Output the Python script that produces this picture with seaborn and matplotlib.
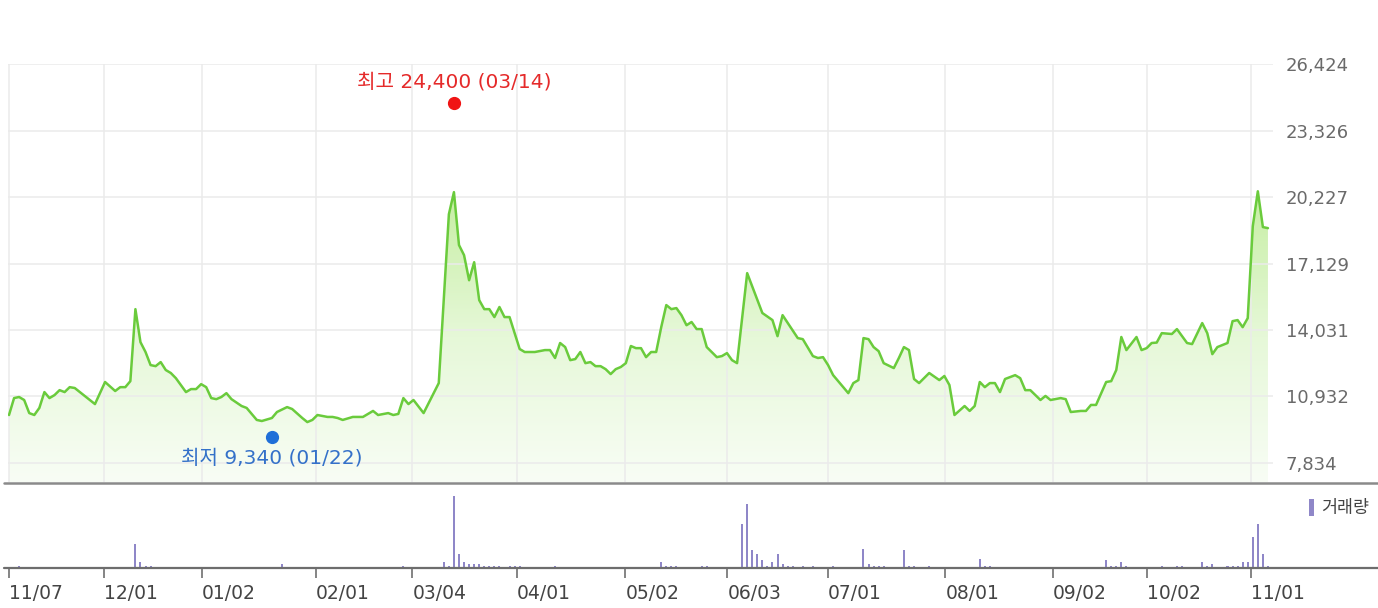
import numpy as np
import matplotlib
matplotlib.use("Agg")
import matplotlib.pyplot as plt
import seaborn as sns
from matplotlib.lines import Line2D
from matplotlib.patches import Patch
from matplotlib.transforms import offset_copy
from matplotlib.colors import LinearSegmentedColormap

# ---------------- data ----------------
day = [0, 1, 2, 3, 4, 5, 6, 7, 8, 9, 10, 11, 12, 13, 17, 19, 21, 22, 23, 24,
       25, 26, 27, 28, 29, 30, 31, 32, 33, 35, 36, 37, 38, 39, 40, 41, 42, 43, 44, 46,
       47, 49, 50, 52, 53, 55, 56, 58, 59, 60, 61, 63, 64, 65, 66, 68, 70, 72, 73, 75,
       76, 77, 78, 79, 80, 82, 85, 87, 88, 89, 90, 91, 92, 93, 94, 95, 96, 97, 98, 99,
       101, 102, 104, 106, 107, 108, 109, 110, 111, 112, 113, 114, 115, 116, 117, 118, 119, 120, 121, 122,
       123, 124, 125, 126, 127, 128, 129, 130, 131, 132, 133, 134, 135, 136, 137, 138, 140, 141, 142, 143,
       144, 146, 149, 151, 152, 153, 156, 157, 159, 160, 161, 162, 163, 166, 167, 168, 169, 170, 171, 172,
       173, 175, 176, 177, 178, 179, 180, 182, 184, 185, 186, 187, 189, 190, 191, 192, 193, 194, 195, 196,
       197, 199, 200, 201, 202, 204, 205, 206, 208, 209, 210, 212, 213, 214, 215, 217, 218, 219, 220, 221,
       223, 224, 225, 226, 227, 228, 230, 231, 233, 234, 236, 237, 238, 239, 241, 242, 243, 244, 245, 246,
       247, 248, 249]
price = [10060, 10850, 10900, 10760, 10150, 10060, 10390, 11130, 10850, 10990, 11220, 11130, 11360, 11320, 10570, 11600, 11180, 11360, 11360, 11640,
         15000, 13460, 13000, 12390, 12340, 12530, 12160, 12020, 11780, 11130, 11270, 11270, 11500, 11360, 10850, 10800, 10900, 11080, 10800, 10480,
         10390, 9830, 9780, 9920, 10200, 10430, 10340, 9920, 9730, 9830, 10060, 9970, 9970, 9920, 9830, 9970, 9970, 10250, 10060, 10150,
         10060, 10110, 10850, 10570, 10760, 10150, 11550, 19430, 20460, 17990, 17520, 16350, 17190, 15420, 15000, 15000, 14630, 15100, 14630, 14630,
         13140, 13000, 13000, 13090, 13090, 12720, 13420, 13230, 12620, 12670, 13000, 12480, 12530, 12340, 12340, 12200, 11970, 12200, 12300, 12480,
         13280, 13180, 13180, 12760, 13000, 13000, 14160, 15190, 15000, 15050, 14720, 14250, 14400, 14070, 14070, 13230, 12760, 12810, 12950, 12620,
         12480, 16680, 14820, 14490, 13740, 14720, 13650, 13600, 12810, 12720, 12760, 12390, 11920, 11080, 11550, 11690, 13650, 13600, 13230, 13040,
         12480, 12250, 12720, 13230, 13090, 11740, 11550, 12020, 11690, 11880, 11460, 10060, 10480, 10250, 10480, 11600, 11360, 11550, 11550, 11130,
         11740, 11920, 11780, 11220, 11220, 10760, 10950, 10760, 10850, 10800, 10200, 10250, 10250, 10530, 10530, 11600, 11640, 12160, 13700, 13090,
         13700, 13090, 13180, 13420, 13440, 13880, 13840, 14070, 13420, 13370, 14350, 13880, 12900, 13230, 13420, 14440, 14490, 14160, 14580, 18870,
         20500, 18830, 18780]

vol_day = [2, 25, 26, 27, 28, 54, 78, 86, 87, 88, 89, 90, 91, 92, 93, 94, 95, 96, 97, 99,
           100, 101, 108, 129, 130, 131, 132, 137, 138, 145, 146, 147, 148, 149, 150, 151, 152, 153, 154, 155,
           157, 159, 163, 169, 170, 171, 172, 173, 177, 178, 179, 182, 192, 193, 194, 217, 218, 219, 220, 221,
           228, 231, 232, 236, 237, 238, 241, 242, 243, 244, 245, 246, 247, 248, 249]
volume = [23, 243, 67, 27, 23, 43, 27, 67, 23, 723, 143, 67, 50, 50, 50, 23, 23, 23, 23, 27,
          27, 23, 23, 67, 27, 27, 27, 23, 23, 443, 643, 183, 143, 83, 23, 67, 143, 43, 27, 23,
          23, 23, 23, 200, 50, 27, 27, 27, 183, 27, 27, 23, 100, 27, 27, 83, 27, 27, 67, 23,
          23, 23, 23, 67, 27, 43, 27, 27, 27, 67, 67, 320, 443, 143, 23]

tick_days = [0, 18.8, 38.1, 60.7, 79.8, 100.4, 121.9, 142.1, 161.9, 185.2, 206.5, 225.1, 245.7]
tick_labels = ["11/07", "12/01", "01/02", "02/01", "03/04", "04/01", "05/02",
               "06/03", "07/01", "08/01", "09/02", "10/02", "11/01"]
price_ticks = [7834, 10932, 14031, 17129, 20227, 23326, 26424]

high_day, high_val, high_date = 88, 24400, "03/14"
low_day, low_val, low_date = 52, 9340, "01/22"
volume_label = "거래량"

# ---------------- style ----------------
sns.set_theme(style="white")
plt.rcParams["font.family"] = ["DejaVu Sans", "Noto Sans CJK KR"]

W, H = 1378, 608
fig = plt.figure(figsize=(W / 100, H / 100), dpi=100)
ax = fig.add_axes([8 / W, 1 - 482 / H, (1273 - 8) / W, (482 - 64) / H])
axv = fig.add_axes([8 / W, 1 - 568.5 / H, (1273 - 8) / W, (568.5 - 483) / H])

y_lo, y_hi = 6934, 26440
x_lo, x_hi = -0.2, 250

line_color = "#6acb3c"

# gradient area under the price line
poly = ax.fill_between(day, price, y_lo, color="none", linewidth=0)
cmap = LinearSegmentedColormap.from_list("g", ["#f8fdf5", "#e6f8d8", "#c6eea3"])
grad = np.linspace(0, 1, 256).reshape(-1, 1)
im = ax.imshow(grad, extent=[day[0], day[-1], y_lo, max(price)], origin="lower",
               aspect="auto", cmap=cmap, zorder=0.3, interpolation="bicubic")
im.set_clip_path(poly.get_paths()[0], transform=ax.transData)

sns.lineplot(x=day, y=price, ax=ax, color=line_color, linewidth=1.8, zorder=3)

ax.set_xlim(x_lo, x_hi)
ax.set_ylim(y_lo, y_hi)
ax.set_xticks(tick_days)
ax.set_xticklabels([])
ax.yaxis.tick_right()
ax.set_yticks(price_ticks)
ax.set_yticklabels([f"{v:,}" for v in price_ticks])
ax.tick_params(axis="both", length=0)
ax.tick_params(axis="y", pad=9, labelsize=13, labelcolor="#6a6a6a")
ax.grid(True, color="#ebebeb", linewidth=1.1)
ax.set_axisbelow(False)
for gl in ax.get_xgridlines() + ax.get_ygridlines():
    gl.set_zorder(0.5)
for s in ax.spines.values():
    s.set_visible(False)
ax.set_xlabel("")
ax.set_ylabel("")

# high / low markers
hi_tr = offset_copy(ax.transData, fig=fig, y=3.5, units="points")
lo_tr = offset_copy(ax.transData, fig=fig, y=-4.5, units="points")
ax.plot([high_day], [high_val], "o", color="#f01414", ms=8.5, transform=hi_tr, zorder=5, clip_on=False)
ax.plot([low_day], [low_val], "o", color="#1f6fd8", ms=8.5, transform=lo_tr, zorder=5, clip_on=False)
ax.annotate(f"최고 {high_val:,} ({high_date})", xy=(high_day, high_val), xytext=(0, 18.5),
            textcoords="offset points", ha="center", va="center", fontsize=14.5,
            color="#e52a2a", annotation_clip=False)
ax.annotate(f"최저 {low_val:,} ({low_date})", xy=(low_day, low_val), xytext=(0, -20),
            textcoords="offset points", ha="center", va="center", fontsize=14.5,
            color="#3471c9", annotation_clip=False)

# volume panel
vol_color = "#8f87c8"
axv.bar(vol_day, volume, width=0.4, color=vol_color, linewidth=0)
axv.set_xlim(x_lo, x_hi)
axv.set_ylim(0, 855)
axv.set_yticks([])
axv.set_xticks(tick_days)
axv.set_xticklabels(tick_labels, ha="left")
axv.tick_params(axis="x", direction="out", length=6.5, width=1.2, color="#6f6f6f",
                pad=5, labelsize=13.5, labelcolor="#444444", bottom=True)
axv.grid(False)
for s in axv.spines.values():
    s.set_visible(False)

leg = axv.legend(handles=[Patch(facecolor=vol_color, edgecolor="none", label=volume_label)],
                 loc="center left", bbox_to_anchor=(1309 / W, 1 - 508 / H),
                 bbox_transform=fig.transFigure, frameon=False, fontsize=12.5,
                 handlelength=0.3, handleheight=1.2, handletextpad=0.4,
                 borderpad=0, borderaxespad=0)
for t in leg.get_texts():
    t.set_color("#444444")

# separator lines spanning the chart width
fig.add_artist(Line2D([4 / W, 1], [1 - 482.7 / H] * 2, color="#8a8a8a", linewidth=1.8))
fig.add_artist(Line2D([4 / W, 1], [1 - 568.3 / H] * 2, color="#6d6d6d", linewidth=1.6))

fig.savefig("out.png", dpi=100, facecolor="white")
